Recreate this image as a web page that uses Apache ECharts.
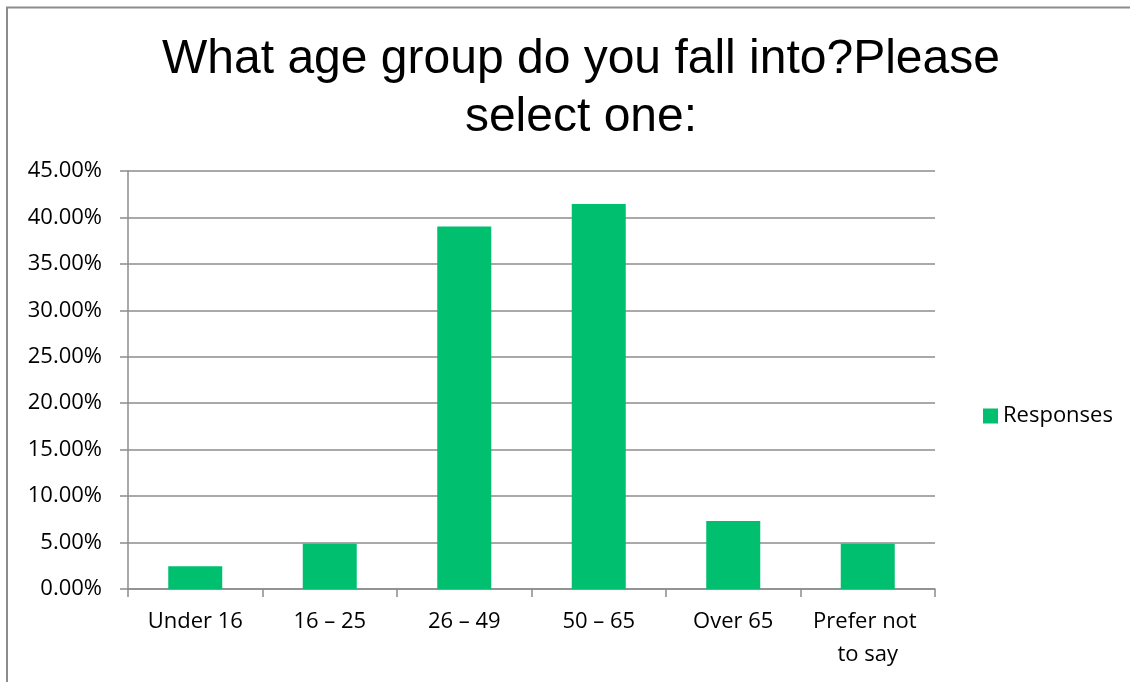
<!DOCTYPE html>
<html>
<head>
<meta charset="utf-8">
<script src="https://cdn.jsdelivr.net/npm/echarts@6/dist/echarts.min.js"></script>
<style>
  html, body { margin: 0; padding: 0; background: #fff; }
  #chart { width: 1130px; height: 682px; }
</style>
</head>
<body>
<div id="chart"></div>
<script>
const titleText = 'What age group do you fall into?Please\nselect one:';
const categories = ['Under 16', '16 – 25', '26 – 49', '50 – 65', 'Over 65', 'Prefer not to say'];
const responses = [2.44, 4.88, 39.02, 41.46, 7.32, 4.88];
const seriesName = 'Responses';
const yMin = 0;
const yMax = 45;
const yStep = 5;

const axisGrey = '#8c8c8c';
const labelFont = '"Open Sans", sans-serif';

const chart = echarts.init(document.getElementById('chart'));
const options = {
  animation: false,
  backgroundColor: '#fff',
  title: {
    text: titleText,
    // the original title sits a little right of centre
    left: 576,
    top: 26,
    textAlign: 'center',
    textStyle: {
      fontFamily: '"Liberation Sans", Arial, sans-serif',
      fontSize: 48,
      fontWeight: 'normal',
      color: '#000',
      lineHeight: 58,
    },
  },
  legend: {
    data: [seriesName],
    left: 978,
    top: 400,
    icon: 'rect',
    itemWidth: 15,
    itemHeight: 15,
    itemGap: 6,
    textStyle: {
      fontFamily: labelFont,
      fontSize: 22,
      color: '#000',
    },
  },
  grid: {
    left: 128,
    right: 195,
    top: 171,
    bottom: 93,
  },
  xAxis: {
    type: 'category',
    data: categories,
    axisLine: { lineStyle: { color: axisGrey, width: 1.5 } },
    axisTick: { show: true, length: 8, lineStyle: { color: axisGrey, width: 1.5 } },
    axisLabel: {
      interval: 0,
      margin: 16,
      color: '#000',
      fontFamily: labelFont,
      fontSize: 22,
      lineHeight: 33,
      width: 125,
      overflow: 'break',
    },
  },
  yAxis: {
    type: 'value',
    min: yMin,
    max: yMax,
    interval: yStep,
    axisLine: { show: true, lineStyle: { color: axisGrey, width: 1.5 } },
    axisTick: { show: true, length: 8, lineStyle: { color: axisGrey, width: 1.5 } },
    splitLine: { show: true, lineStyle: { color: axisGrey, width: 1.5 } },
    axisLabel: {
      margin: 26,
      color: '#000',
      fontFamily: labelFont,
      fontSize: 22,
      formatter: (v) => v.toFixed(2) + '%',
    },
  },
  series: [
    {
      name: seriesName,
      type: 'bar',
      data: responses,
      barWidth: 54,
      itemStyle: { color: '#00BF6F' },
    },
  ],
  graphic: [
    {
      type: 'polyline',
      silent: true,
      shape: { points: [[7, 682], [7, 7.5], [1130, 7.5]] },
      style: { stroke: axisGrey, lineWidth: 2, fill: null },
    },
  ],
};
chart.setOption(options);
</script>
</body>
</html>
